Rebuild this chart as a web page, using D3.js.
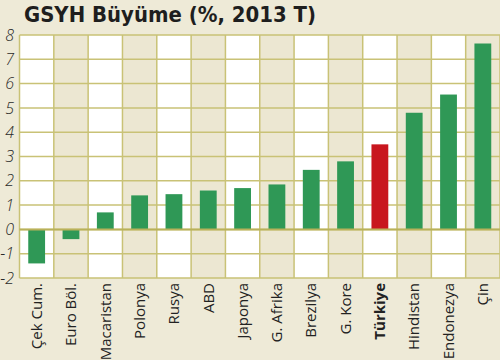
<!DOCTYPE html>
<html><head><meta charset="utf-8">
<script src="https://cdn.jsdelivr.net/npm/d3@7"></script>
<style>
html,body{margin:0;padding:0;background:#eeead7;}
svg{display:block;}
</style></head>
<body>
<svg id="c" width="500" height="360"></svg>
<script>
const title = "GSYH Büyüme (%, 2013 T)";
const categories = ["Çek Cum.","Euro Böl.","Macaristan","Polonya","Rusya","ABD","Japonya","G. Afrika","Brezilya","G. Kore","Türkiye","Hindistan","Endonezya","Çin"];
const values = [-1.4,-0.4,0.7,1.4,1.45,1.6,1.7,1.85,2.45,2.8,3.5,4.8,5.55,7.65];
const yTicks = [-2,-1,0,1,2,3,4,5,6,7,8];
const highlight = "Türkiye";

(function(){
const svg = d3.select("#c");
const W = 500, H = 360;
const mLeft = 19.5, mRight = 500, mTop = 35, mBottom = 278;

svg.append("rect").attr("width",W).attr("height",H).attr("fill","#eeead7");

const x = d3.scaleBand().domain(categories).range([mLeft,mRight]).padding(0);
const y = d3.scaleLinear().domain([-2,8]).range([mBottom,mTop]);

// column backgrounds
svg.append("g").selectAll("rect").data(categories).join("rect")
  .attr("x",d=>x(d)).attr("y",mTop).attr("width",x.bandwidth()).attr("height",mBottom-mTop)
  .attr("fill",(d,i)=> i%2===0 ? "#ffffff" : "#ece7d2");

const gridColor = "#c9c276";
svg.append("g").selectAll("line").data(yTicks).join("line")
  .attr("x1",mLeft).attr("x2",mRight)
  .attr("y1",d=>y(d)).attr("y2",d=>y(d))
  .attr("stroke",gridColor).attr("stroke-width",1.5);
const bounds = categories.map(d=>x(d)).concat([mRight]);
svg.append("g").selectAll("line").data(bounds).join("line")
  .attr("x1",d=>d).attr("x2",d=>d).attr("y1",mTop).attr("y2",mBottom)
  .attr("stroke",gridColor).attr("stroke-width",1.5);

// bars
const bw = x.bandwidth()*0.49;
svg.append("g").selectAll("rect").data(categories).join("rect")
  .attr("x",d=>x(d)+x.bandwidth()/2-bw/2)
  .attr("y",(d,i)=>y(Math.max(0,values[i])))
  .attr("width",bw)
  .attr("height",(d,i)=>Math.abs(y(values[i])-y(0)))
  .attr("fill",d=> d===highlight ? "#c8161e" : "#2f9856");

// zero line
svg.append("line").attr("x1",mLeft).attr("x2",mRight).attr("y1",y(0)).attr("y2",y(0))
  .attr("stroke","#b9b15a").attr("stroke-width",2);

// y axis labels
const yAxis = d3.axisLeft(y).tickValues(yTicks).tickSize(0).tickPadding(0).tickFormat(d=>String(d));
const ya = svg.append("g").attr("transform","translate(14,0)").call(yAxis);
ya.select(".domain").remove();
ya.selectAll("text").attr("font-family","'Open Sans','Noto Sans',sans-serif")
  .attr("font-style","italic").attr("font-weight","300").attr("font-size",16).attr("fill","#2a2a2a");

// x labels
const xAxis = d3.axisBottom(x).tickSize(0).tickPadding(0);
const xa = svg.append("g").attr("transform",`translate(0,${mBottom})`).call(xAxis);
xa.select(".domain").remove();
xa.selectAll("text")
  .attr("transform","rotate(-90)")
  .attr("text-anchor","end")
  .attr("x",-5).attr("y",0).attr("dy","0.35em")
  .attr("font-family","'Open Sans','Noto Sans',sans-serif")
  .attr("font-size",15)
  .attr("font-weight",d=> d===highlight ? "bold" : "normal")
  .attr("fill","#222");

// title
svg.append("text").attr("x",24).attr("y",22)
  .attr("font-family","'DejaVu Sans Condensed','Liberation Sans Narrow','Roboto Condensed','DejaVu Sans',sans-serif")
  .attr("font-stretch","condensed")
  .attr("font-weight","bold").attr("font-size",21).attr("fill","#1e1e1e")
  .attr("textLength",292).attr("lengthAdjust","spacingAndGlyphs")
  .text(title);
})();
</script>
</body></html>
